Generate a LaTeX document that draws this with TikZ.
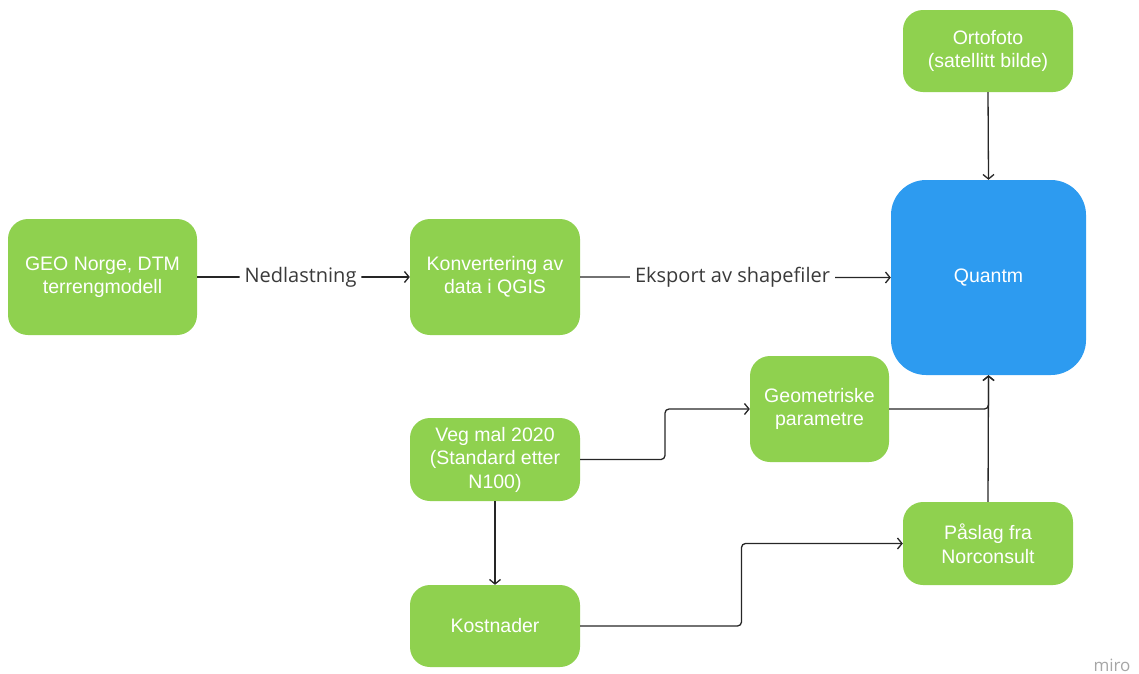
\documentclass[tikz,border=0pt]{standalone}
\usepackage{fontspec}
\setmainfont{Liberation Sans}
\newfontfamily\labelfont{Open Sans}
\usetikzlibrary{arrows.meta,calc}
\definecolor{mgreen}{HTML}{8FD14F}
\definecolor{mblue}{HTML}{2D9BF0}
\definecolor{mtext}{HTML}{3A3A3A}
\tikzset{
  gbox/.style={fill=mgreen, draw=none, rounded corners=20pt, text=white, align=center,
    inner sep=0pt, font=\fontsize{19.5}{23.5}\selectfont},
  conn/.style={draw=black!85, line width=1.3pt, -{Straight Barb[length=4.5pt,width=11pt]}, rounded corners=4pt},
  lbl/.style={fill=white, text=mtext, font=\labelfont\fontsize{20}{22}\selectfont, inner sep=5pt}
}
\begin{document}
\begin{tikzpicture}[x=1pt,y=-1pt]
\useasboundingbox (0,0) rectangle (1139,673);
\node[gbox, minimum width=189pt, minimum height=116pt] (geo) at (102.5,277) {GEO Norge, DTM\\terrengmodell};
\node[gbox, minimum width=170pt, minimum height=116pt] (konv) at (495,277) {Konvertering av\\data i QGIS};
\node[fill=mblue, rounded corners=35pt, text=white, inner sep=0pt, font=\fontsize{19.5}{23.5}\selectfont,
      minimum width=195pt, minimum height=195pt] (quantm) at (988.5,277.5) {Quantm};
\node[gbox, minimum width=170pt, minimum height=82pt] (orto) at (988,51) {Ortofoto\\(satellitt bilde)};
\node[gbox, minimum width=139pt, minimum height=106pt] (geom) at (819.5,409) {Geometriske\\parametre};
\node[gbox, minimum width=170pt, minimum height=83pt] (veg) at (495,459.5) {Veg mal 2020\\(Standard etter\\N100)};
\node[gbox, minimum width=170pt, minimum height=82pt] (kost) at (495,626) {Kostnader};
\node[gbox, minimum width=170pt, minimum height=83pt] (pas) at (988,543.5) {Påslag fra\\Norconsult};

\draw[conn] (geo.east) -- node[lbl, xshift=-3pt] {Nedlastning} (konv.west);
\draw[conn] (konv.east) -- node[lbl, xshift=-3pt] {Eksport av shapefiler} (quantm.west);
\draw[conn] (orto.south) -- (quantm.north);
\coordinate (m1) at ($(veg.east)!.5!(geom.west)$);
\draw[conn] (veg.east) -| (m1) |- (geom.west);
\coordinate (m2) at ($(kost.east)!.5!(pas.west)$);
\draw[conn] (kost.east) -| (m2) |- (pas.west);
\draw[conn] (veg.south) -- (kost.north);
\draw[conn] (geom.east) -| (quantm.south);
\draw[conn] (pas.north) -- (quantm.south);
\node[text=black!35, font=\labelfont\fontsize{17}{18}\selectfont, inner sep=0pt] (miro) at (1112,665) {miro};
\end{tikzpicture}
\end{document}
